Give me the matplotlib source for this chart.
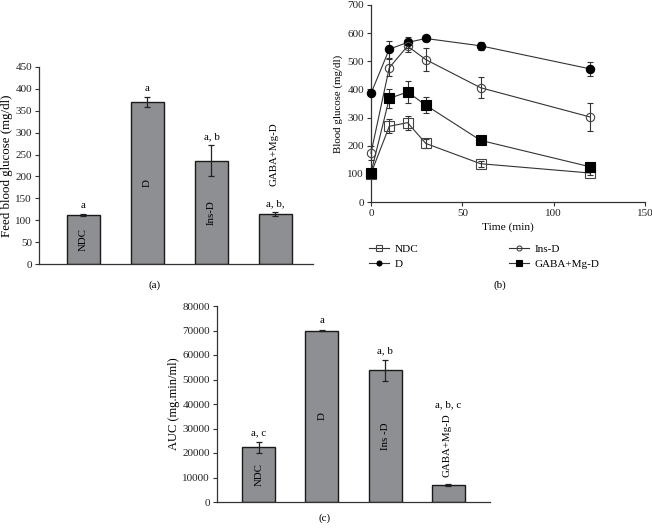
import matplotlib
matplotlib.use("Agg")
import matplotlib.pyplot as plt
import numpy as np

plt.rcParams['font.family'] = ['Liberation Serif', 'DejaVu Serif']
plt.rcParams['font.size'] = 8

# ---------------- data ----------------
groups = ["NDC", "D", "Ins-D", "GABA+Mg-D"]

feed_glucose = [112, 370, 236, 114]
feed_err = [3, 12, 35, 5]
feed_letters = ["a", "a", "a, b", "a, b,"]

time_min = [0, 10, 20, 30, 60, 120]
ogtt_ndc = [101, 269, 282, 208, 136, 103]
ogtt_ndc_err = [8, 25, 25, 15, 10, 8]
ogtt_d = [386, 543, 567, 581, 555, 473]
ogtt_d_err = [10, 30, 20, 8, 15, 25]
ogtt_ins = [174, 477, 554, 506, 406, 302]
ogtt_ins_err = [25, 30, 20, 40, 38, 50]
ogtt_gaba = [104, 368, 391, 344, 219, 125]
ogtt_gaba_err = [8, 35, 40, 28, 8, 10]

auc_vals = [22300, 70000, 53800, 7000]
auc_err = [2300, 300, 4300, 400]
auc_letters = ["a, c", "a", "a, b", "a, b, c"]
auc_bar_labels = ["NDC", "D", "Ins -D", "GABA+Mg-D"]

# ---------------- style ----------------
W, H = 652, 529
fig = plt.figure(figsize=(W / 100, H / 100), dpi=100)
BAR_COLOR = "#8d8f92"
EDGE = "#1a1a1a"
AX_COLOR = "#333333"
TICK_FS = 8
LAB_FS = 7.8


def px_axes(left, top, right, bottom):
    return fig.add_axes([left / W, (H - bottom) / H, (right - left) / W, (bottom - top) / H])


def style_axes(ax):
    for s in ["top", "right"]:
        ax.spines[s].set_visible(False)
    for s in ["left", "bottom"]:
        ax.spines[s].set_color(AX_COLOR)
        ax.spines[s].set_linewidth(0.9)
    ax.tick_params(axis="both", colors=AX_COLOR, labelcolor="#222222",
                   length=3, width=0.8, labelsize=TICK_FS, pad=2)


def bar_panel(ax, vals, errs):
    x = np.arange(len(vals))
    ax.bar(x, vals, width=0.52, color=BAR_COLOR, edgecolor=EDGE, linewidth=1.0, zorder=2)
    ax.errorbar(x, vals, yerr=errs, fmt="none", ecolor="#222222", elinewidth=0.9,
                capsize=2.5, capthick=0.9, zorder=3)
    ax.set_xticks([])
    return x


# ---------------- panel (a) ----------------
axa = px_axes(39, 67, 313, 264)
style_axes(axa)
xa = bar_panel(axa, feed_glucose, feed_err)
axa.set_xlim(-0.695, 3.586)
axa.set_ylim(0, 450)
axa.set_yticks(np.arange(0, 451, 50))
axa.set_ylabel("Feed blood glucose (mg/dl)", fontsize=9.3, labelpad=2)
for i in range(3):
    axa.text(xa[i], feed_glucose[i] / 2, groups[i], rotation=90, ha="center",
             va="center", fontsize=LAB_FS, zorder=4)
for i, lab in enumerate(feed_letters):
    axa.annotate(lab, (xa[i], feed_glucose[i] + feed_err[i]), xytext=(0, 6),
                 textcoords="offset points", ha="center", va="center", fontsize=LAB_FS)
axa.annotate(groups[3], (xa[3], feed_glucose[3] + feed_err[3]), xytext=(-1, 19),
             textcoords="offset points", ha="center", va="bottom", rotation=90,
             fontsize=LAB_FS)
fig.text(155 / W, 1 - 285 / H, "(a)", ha="center", va="center", fontsize=8)

# ---------------- panel (b) ----------------
axb = px_axes(371, 5, 645, 202)
style_axes(axb)
series = [
    (ogtt_ndc, ogtt_ndc_err, "s", "none", 6.5, groups[0]),
    (ogtt_d, ogtt_d_err, "o", "black", 6.0, groups[1]),
    (ogtt_ins, ogtt_ins_err, "o", "none", 6.0, groups[2]),
    (ogtt_gaba, ogtt_gaba_err, "s", "black", 7.0, groups[3]),
]
handles = {}
for vals, errs, mk, fc, ms, lab in series:
    axb.errorbar(time_min, vals, yerr=errs, fmt="none", ecolor="#333333",
                 elinewidth=0.8, capsize=2.5, capthick=0.8, zorder=2, clip_on=False)
    h, = axb.plot(time_min, vals, color="#333333", linewidth=0.8, marker=mk,
                  markersize=ms, markerfacecolor=fc,
                  markeredgecolor="black" if fc == "black" else "#444444",
                  markeredgewidth=0.8, zorder=3, clip_on=False, label=lab)
    handles[lab] = h
axb.set_xlim(0, 150)
axb.set_ylim(0, 700)
axb.set_xticks([0, 50, 100, 150])
axb.set_yticks(np.arange(0, 701, 100))
axb.set_xlabel("Time (min)", fontsize=8.2, labelpad=3)
axb.set_ylabel("Blood glucose (mg/dl)", fontsize=7.8, labelpad=3)
leg_handles = [handles[g] for g in groups]
leg = axb.legend(leg_handles, groups, ncol=2, frameon=False, fontsize=8,
                 loc="upper left", bbox_to_anchor=(369 / W, 1 - 244 / H),
                 bbox_transform=fig.transFigure, handlelength=1.8,
                 handletextpad=0.5, columnspacing=8.2, labelspacing=0.45,
                 markerscale=0.6, borderaxespad=0, borderpad=0)
fig.text(500 / W, 1 - 285 / H, "(b)", ha="center", va="center", fontsize=8)

# ---------------- panel (c) ----------------
axc = px_axes(217, 306, 490, 502)
style_axes(axc)
xc = bar_panel(axc, auc_vals, auc_err)
axc.set_xlim(-0.66, 3.66)
axc.set_ylim(0, 80000)
axc.set_yticks(np.arange(0, 80001, 10000))
axc.set_ylabel("AUC (mg.min/ml)", fontsize=9, labelpad=2)
for i in range(3):
    axc.text(xc[i], auc_vals[i] / 2, auc_bar_labels[i], rotation=90, ha="center",
             va="center", fontsize=LAB_FS, zorder=4)
for i in range(3):
    axc.annotate(auc_letters[i], (xc[i], auc_vals[i] + auc_err[i]), xytext=(0, 6.5),
                 textcoords="offset points", ha="center", va="center", fontsize=LAB_FS)
axc.annotate(auc_bar_labels[3], (xc[3], auc_vals[3] + auc_err[3]), xytext=(-1, 5),
             textcoords="offset points", ha="center", va="bottom", rotation=90,
             fontsize=LAB_FS, zorder=4)
axc.annotate(auc_letters[3], (xc[3], auc_vals[3] + auc_err[3]), xytext=(0, 57),
             textcoords="offset points", ha="center", va="center", fontsize=LAB_FS)
fig.text(325 / W, 1 - 518 / H, "(c)", ha="center", va="center", fontsize=8)

fig.savefig("out.png", dpi=100, facecolor="white")
